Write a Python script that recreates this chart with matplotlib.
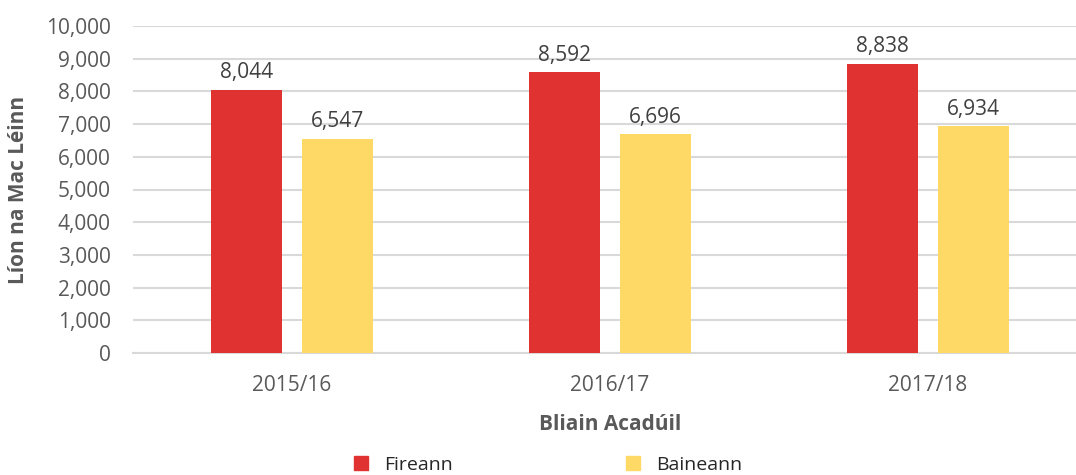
import numpy as np
import matplotlib
matplotlib.use('Agg')
from matplotlib import pyplot as plt
from matplotlib.lines import Line2D
from matplotlib.ticker import FuncFormatter

years = ['2015/16', '2016/17', '2017/18']
fireann = [8044, 8592, 8838]
baineann = [6547, 6696, 6934]
series_names = ['Fireann', 'Baineann']

red = '#E03331'
yellow = '#FFD966'
grey_text = '#595959'

plt.rcParams['font.family'] = ['Open Sans', 'DejaVu Sans']

fig = plt.figure(figsize=[10.76, 4.75], dpi=100)
ax = fig.add_axes([133/1076, 1-353/475, (1087-133)/1076, (353-26)/475])

x = np.arange(len(years))
w = 0.223
b1 = ax.bar(x - 0.1425, fireann, width=w, color=red, zorder=3)
b2 = ax.bar(x + 0.1425, baineann, width=w, color=yellow, zorder=3)

for bars in (b1, b2):
    for r in bars:
        h = r.get_height()
        ax.text(r.get_x() + r.get_width()/2, h + 200, f'{h:,.0f}',
                ha='center', va='bottom', fontsize=15, color='#404040')

ax.set_xlim(-0.5, 2.5)
ax.set_ylim(0, 10000)
ax.set_yticks(np.arange(0, 10001, 1000))
ax.yaxis.set_major_formatter(FuncFormatter(lambda v, p: f'{v:,.0f}'))
ax.set_xticks(x)
ax.set_xticklabels(years)
ax.tick_params(axis='both', length=0, labelsize=15, colors=grey_text)
ax.tick_params(axis='x', pad=16)
ax.tick_params(axis='y', pad=16)
ax.yaxis.grid(True, color='#D9D9D9', linewidth=1.5, zorder=0)
for s in ['top', 'right', 'left']:
    ax.spines[s].set_visible(False)
ax.spines['bottom'].set_color('#D9D9D9')
ax.spines['bottom'].set_linewidth(1.5)

ax.set_xlabel('Bliain Acadúil', fontsize=15, fontweight='bold', color=grey_text, labelpad=13)
fig.text(19/1076, 1-190/475, 'Líon na Mac Léinn', rotation=90, ha='center', va='center',
         fontsize=15, fontweight='bold', color=grey_text)

for name, col, xpos in [(series_names[0], red, 342), (series_names[1], yellow, 614)]:
    h = Line2D([], [], marker='s', linestyle='none', markersize=10, color=col)
    fig.legend(handles=[h], labels=[name], loc='upper left',
               bbox_to_anchor=(xpos/1076, 1-446/475), frameon=False,
               fontsize=14, handlelength=1.0, handletextpad=0.65, borderpad=0,
               labelcolor='#262626')

plt.savefig('out.png', dpi=100)
plt.close()
